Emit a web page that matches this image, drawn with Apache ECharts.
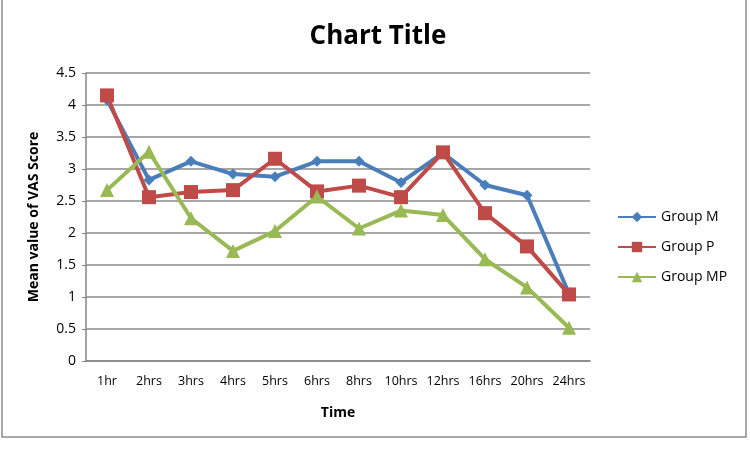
<!DOCTYPE html>
<html><head><meta charset="utf-8">
<script src="https://cdn.jsdelivr.net/npm/echarts@6/dist/echarts.min.js"></script>
<style>html,body{margin:0;padding:0;background:#fff}#c{width:750px;height:451px}</style>
</head><body><div id="c"></div>
<script>
const categories = ['1hr','2hrs','3hrs','4hrs','5hrs','6hrs','8hrs','10hrs','12hrs','16hrs','20hrs','24hrs'];
const groupM  = [4.08, 2.83, 3.12, 2.92, 2.88, 3.12, 3.12, 2.79, 3.25, 2.75, 2.59, 1.05];
const groupP  = [4.15, 2.56, 2.64, 2.67, 3.16, 2.65, 2.74, 2.56, 3.26, 2.31, 1.79, 1.04];
const groupMP = [2.67, 3.27, 2.23, 1.72, 2.03, 2.57, 2.07, 2.35, 2.28, 1.59, 1.15, 0.52];
const yTicks = {min: 0, max: 4.5, interval: 0.5};

const font = '"Open Sans", "Liberation Sans", sans-serif';
const chart = echarts.init(document.getElementById('c'));
function ser(name, data, color, symbol, size){
  return {name, type:'line', data, symbol, symbolSize:size, showSymbol:true,
    lineStyle:{color, width:4}, itemStyle:{color}, animation:false};
}
chart.setOption({
  animation:false,
  textStyle:{fontFamily:font},
  graphic:[{type:'rect', shape:{x:2,y:-2,width:744,height:439}, style:{fill:null, stroke:'#8c8c8c', lineWidth:1.5}, silent:true}],
  title:{text:'Chart Title', left:373, top:19, textAlign:'center',
    textStyle:{fontFamily:font, fontSize:26, fontWeight:'bold', color:'#000'}},
  grid:{left:86, top:73, width:504, height:288},
  legend:{orient:'vertical', left:612, top:205, itemGap:16, itemWidth:38, itemHeight:13,
    textStyle:{fontFamily:font, fontSize:14, color:'#000'},
    data:['Group M','Group P','Group MP']},
  xAxis:{type:'category', data:categories, boundaryGap:true,
    name:'Time', nameLocation:'middle', nameGap:45,
    nameTextStyle:{fontFamily:font, fontSize:14, fontWeight:'bold', color:'#000'},
    axisLine:{lineStyle:{color:'#868686', width:1.5}},
    axisTick:{show:false},
    axisLabel:{fontFamily:font, fontSize:12.5, color:'#000', margin:14, interval:0}},
  yAxis:{type:'value', min:yTicks.min, max:yTicks.max, interval:yTicks.interval,
    name:'Mean value of VAS Score', nameLocation:'middle', nameGap:45,
    nameTextStyle:{fontFamily:font, fontSize:14, fontWeight:'bold', color:'#000'},
    axisLine:{show:true, lineStyle:{color:'#868686', width:1.5}},
    axisTick:{show:true, length:4, lineStyle:{color:'#868686'}},
    splitLine:{lineStyle:{color:'#8a8a8a', width:1.5}},
    axisLabel:{fontFamily:font, fontSize:14, color:'#000', margin:10}},
  series:[
    ser('Group M', groupM, '#4a7ebb', 'diamond', 11),
    ser('Group P', groupP, '#be4b48', 'rect', 14),
    ser('Group MP', groupMP, '#98b954', 'triangle', 14)
  ]
});
</script></body></html>
